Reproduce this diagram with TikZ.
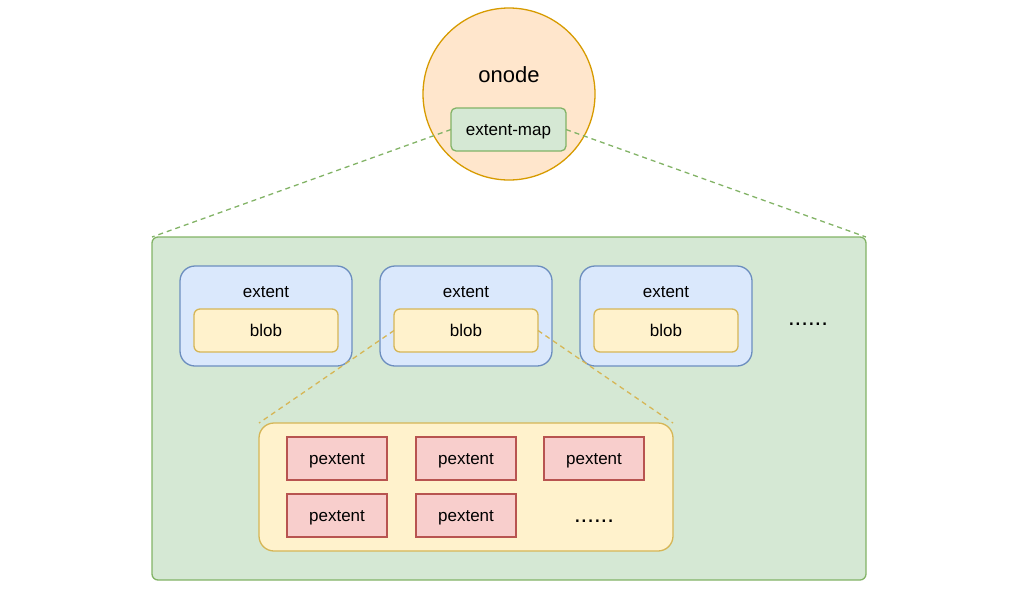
\documentclass[tikz,border=0pt]{standalone}
\usepackage{fontspec}
\setmainfont{Liberation Sans}
\usetikzlibrary{positioning}
\definecolor{orangefill}{HTML}{FFE6CC}
\definecolor{orangeline}{HTML}{D79B00}
\definecolor{greenfill}{HTML}{D5E8D4}
\definecolor{greenline}{HTML}{82B366}
\definecolor{bluefill}{HTML}{DAE8FC}
\definecolor{blueline}{HTML}{6C8EBF}
\definecolor{yellowfill}{HTML}{FFF2CC}
\definecolor{yellowline}{HTML}{D6B656}
\definecolor{redfill}{HTML}{F8CECC}
\definecolor{redline}{HTML}{B85450}
\tikzset{
  box/.style={draw, line width=1.3pt, inner sep=0pt, outer sep=0pt, text height=12pt, text depth=0pt, font=\fontsize{17}{20}\selectfont},
  extbox/.style={box, fill=bluefill, draw=blueline, rounded corners=15pt, minimum width=172pt, minimum height=100pt},
  blobbox/.style={box, fill=yellowfill, draw=yellowline, rounded corners=6pt, minimum width=144pt, minimum height=43pt},
  pextbox/.style={box, fill=redfill, draw=redline, minimum width=100pt, minimum height=43pt},
  lbl/.style={inner sep=0pt, text height=12pt, text depth=0pt, font=\fontsize{17}{20}\selectfont},
  dots/.style={font=\fontsize{24}{24}\selectfont, inner sep=0pt},
  zoomline/.style={line width=1.3pt, dash pattern=on 5pt off 4pt}
}

\begin{document}
\begin{tikzpicture}[x=1pt, y=-1pt]
    %\draw [help lines] (0, 0) grid (1016, 590);
    \useasboundingbox (0, 0) rectangle (1016, 590);

    \node [box, circle, fill=orangefill, draw=orangeline, minimum size=172pt] (onode) at (509, 94) {};
    \node [inner sep=0pt, text height=16pt, text depth=0pt, font=\fontsize{22}{24}\selectfont] (onode_label) at (509, 74) {onode};
    \node [box, fill=greenfill, draw=greenline, rounded corners=5pt, minimum width=115pt, minimum height=43pt] (emap) at (508.5, 129.5) {extent-map};

    \node [box, fill=greenfill, draw=greenline, rounded corners=6pt, minimum width=714pt, minimum height=343pt] (cont) at (509, 408.5) {};

    \node [extbox] (ext1) at (266, 316) {};
    \node [extbox, right=28pt of ext1] (ext2) {};
    \node [extbox, right=28pt of ext2] (ext3) {};
    \node [lbl] at ([yshift=-25pt]ext1.north) {extent};
    \node [lbl] at ([yshift=-25pt]ext2.north) {extent};
    \node [lbl] at ([yshift=-25pt]ext3.north) {extent};
    \node [blobbox, below=43pt of ext1.north] (blob1) {blob};
    \node [blobbox, below=43pt of ext2.north] (blob2) {blob};
    \node [blobbox, below=43pt of ext3.north] (blob3) {blob};
    \node [dots] (ext_more) at (808, 324) {......};

    \node [box, fill=yellowfill, draw=yellowline, rounded corners=15pt, minimum width=414pt, minimum height=128pt] (bcont) at (466, 487) {};

    \node [pextbox] (pext1) at (337, 458.5) {pextent};
    \node [pextbox, right=29pt of pext1] (pext2) {pextent};
    \node [pextbox, right=28pt of pext2] (pext3) {pextent};
    \node [pextbox, below=14pt of pext1] (pext4) {pextent};
    \node [pextbox, below=14pt of pext2] (pext5) {pextent};
    \node [dots, yshift=-6pt] (pext_more) at (pext3 |- pext5) {......};

    \draw [zoomline, greenline] (emap.west) -- (cont.north west);
    \draw [zoomline, greenline] (emap.east) -- (cont.north east);
    \draw [zoomline, yellowline] (blob2.west) -- (bcont.north west);
    \draw [zoomline, yellowline] (blob2.east) -- (bcont.north east);

\end{tikzpicture}
\end{document}
